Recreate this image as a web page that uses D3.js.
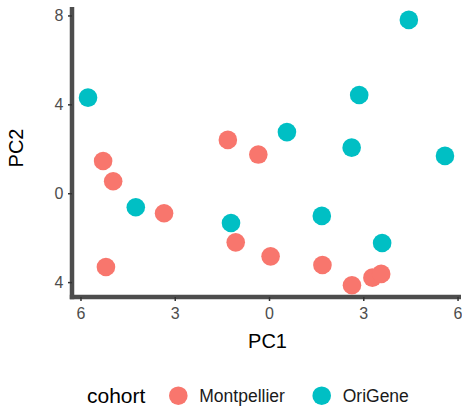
<!DOCTYPE html>
<html>
<head>
<meta charset="utf-8">
<script src="https://cdn.jsdelivr.net/npm/d3@7"></script>
<style>
  body { margin: 0; background: #fff; }
  text { font-family: "Liberation Sans", Arial, sans-serif; }
</style>
</head>
<body>
<div id="chart"></div>
<script>
// PC scores
const montpellierPC1 = [-1.31, -0.34, -5.28, -4.96, -3.34, -1.06, 0.05, 1.70, -5.19, 2.64, 3.29, 3.57];
const montpellierPC2 = [2.40, 1.74, 1.45, 0.54, -0.90, -2.21, -2.84, -3.23, -3.32, -4.14, -3.80, -3.63];
const origenePC1 = [-5.76, 4.45, 2.87, 0.57, 2.63, 5.60, -4.24, -1.21, 1.68, 3.60];
const origenePC2 = [4.30, 7.80, 4.42, 2.75, 2.05, 1.68, -0.63, -1.34, -1.02, -2.24];
const cohorts = ['Montpellier', 'OriGene'];
const xTicks = [-6, -3, 0, 3, 6];
const yTicks = [-4, 0, 4, 8];

const colors = { Montpellier: '#F8766D', OriGene: '#00BFC4' };

const points = [
  ...montpellierPC1.map((d, i) => ({ x: d, y: montpellierPC2[i], cohort: 'Montpellier' })),
  ...origenePC1.map((d, i) => ({ x: d, y: origenePC2[i], cohort: 'OriGene' })),
];

const width = 462;
const height = 407;
const margin = { top: 7, right: 1, bottom: 110, left: 72 };

const svg = d3.select('#chart')
  .append('svg')
  .attr('width', width)
  .attr('height', height);

const x = d3.scaleLinear()
  .domain([-6.27, 6.11])
  .range([margin.left, width - margin.right]);

const y = d3.scaleLinear()
  .domain([-4.67, 8.38])
  .range([height - margin.bottom, margin.top]);

// minus signs are missing from the original tick labels
const fmt = (d) => String(Math.abs(d));

const xAxis = svg.append('g')
  .attr('transform', `translate(0,${height - margin.bottom})`)
  .call(d3.axisBottom(x).tickValues(xTicks).tickFormat(fmt).tickSize(4).tickSizeOuter(0));

const yAxis = svg.append('g')
  .attr('transform', `translate(${margin.left},0)`)
  .call(d3.axisLeft(y).tickValues(yTicks).tickFormat(fmt).tickSize(4).tickSizeOuter(0));

[xAxis, yAxis].forEach((g) => {
  g.select('.domain').attr('stroke', '#4d4d4d').attr('stroke-width', 4.5);
  g.selectAll('.tick line').attr('stroke', '#333').attr('stroke-width', 1.5);
  g.selectAll('.tick text')
    .attr('fill', '#4d4d4d')
    .style('font-size', '16px')
    .style('font-family', '"Liberation Sans", Arial, sans-serif');
});
xAxis.selectAll('.tick text').attr('dy', '0.95em');
yAxis.selectAll('.tick text').attr('dx', '-0.1em');
// extend the axis lines so they meet in the corner
xAxis.select('.domain').attr('d', `M${margin.left - 2.2},0H${width - margin.right}`);
yAxis.select('.domain').attr('d', `M0,${height - margin.bottom + 2.2}V${margin.top}`);

svg.append('g')
  .selectAll('circle')
  .data(points)
  .join('circle')
  .attr('cx', (d) => x(d.x))
  .attr('cy', (d) => y(d.y))
  .attr('r', 9.3)
  .attr('fill', (d) => colors[d.cohort]);

// axis titles
svg.append('text')
  .attr('x', 267.5)
  .attr('y', 348)
  .attr('text-anchor', 'middle')
  .style('font-size', '20px')
  .text('PC1');

svg.append('text')
  .attr('transform', `translate(23,148) rotate(-90)`)
  .attr('text-anchor', 'middle')
  .style('font-size', '20px')
  .text('PC2');

// legend
const legend = svg.append('g');
legend.append('text')
  .attr('x', 87)
  .attr('y', 403)
  .style('font-size', '21px')
  .text('cohort');

const legendX = { Montpellier: 178.3, OriGene: 321.7 };
cohorts.forEach((c) => {
  legend.append('circle')
    .attr('cx', legendX[c])
    .attr('cy', 395.7)
    .attr('r', 9.3)
    .attr('fill', colors[c]);
  legend.append('text')
    .attr('x', legendX[c] + 21)
    .attr('y', 402)
    .style('font-size', '17.5px')
    .attr('fill', '#1a1a1a')
    .text(c);
});
</script>
</body>
</html>
